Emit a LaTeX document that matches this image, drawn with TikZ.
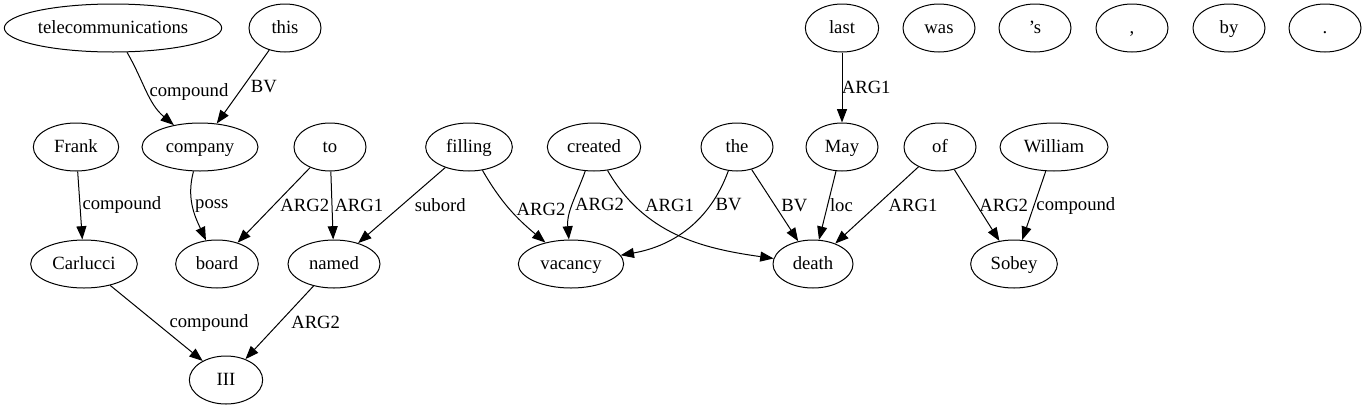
\documentclass[tikz,border=0pt]{standalone}
\usepackage{fontspec}
\setmainfont{Liberation Serif}
\usetikzlibrary{shapes.geometric,arrows.meta}

\begin{document}
\begin{tikzpicture}[x=0.75pt, y=-0.75pt,
    every node/.style={font=\fontsize{14}{16}\selectfont},
    word/.style={ellipse, draw, line width=0.75pt, inner sep=0pt,
      text height=11pt, text depth=3pt,
      minimum height=36pt, minimum width=#1},
    word/.default=54pt,
    lbl/.style={anchor=west, inner sep=1.5pt},
    dep/.style={-{Triangle[length=10pt,width=7.5pt]}, line width=0.75pt}]
  \useasboundingbox (0,0) rectangle (1363,411);

  % top row
  \node[word=163pt] (telecom) at (113,28)  {telecommunications};
  \node[word]       (this)    at (285,28)  {this};
  \node[word=55pt]  (last)    at (842,28)  {last};
  \node[word]       (was)     at (939,28)  {was};
  \node[word]       (apos)    at (1035,28) {’s};
  \node[word]       (comma)   at (1132,28) {,};
  \node[word]       (by)      at (1229,28) {by};
  \node[word]       (period)  at (1325,28) {.};

  % second row
  \node[word=64pt]  (Frank)   at (76,147)   {Frank};
  \node[word=87pt]  (company) at (200,147)  {company};
  \node[word]       (To)      at (330,147)  {to};
  \node[word=65pt]  (filling) at (469,147)  {filling};
  \node[word=70pt]  (created) at (594,147)  {created};
  \node[word]       (the)     at (737,147)  {the};
  \node[word]       (May)     at (842,147)  {May};
  \node[word]       (of)      at (940,147)  {of};
  \node[word=81pt]  (William) at (1054,147) {William};

  % third row
  \node[word=80pt]  (Carlucci) at (84,264)  {Carlucci};
  \node[word=62pt]  (board)    at (217,264) {board};
  \node[word=69pt]  (named)    at (334,264) {named};
  \node[word=79pt]  (vacancy)  at (571,264) {vacancy};
  \node[word=60pt]  (death)    at (813,264) {death};
  \node[word=65pt]  (Sobey)    at (1014,264) {Sobey};

  % bottom
  \node[word=55pt]  (III) at (226,380) {III};

  \draw[dep] (telecom) to[out=-60, in=140] node[lbl] {compound} (company);
  \draw[dep] (this) -- node[lbl, xshift=4pt] {BV} (company);
  \draw[dep] (last) -- node[lbl, xshift=-2pt] {ARG1} (May);
  \draw[dep] (Frank) -- node[lbl] {compound} (Carlucci);
  \draw[dep] (company) to[out=-105, in=115] node[lbl] {poss} (board);
  \draw[dep] (To) -- node[lbl, xshift=3pt] {ARG2} (board);
  \draw[dep] (To) -- node[lbl] {ARG1} (named);
  \draw[dep] (filling) -- node[lbl, xshift=8pt] {subord} (named);
  \draw[dep] (filling) to[out=-60, in=140] node[lbl, xshift=3pt] {ARG2} (vacancy);
  \draw[dep] (created) to[out=-110, in=95] node[lbl] {ARG2} (vacancy);
  \draw[dep] (created) to[out=-60, in=172] node[lbl, pos=0.22, xshift=6pt] {ARG1} (death);
  \draw[dep] (the) to[out=-110, in=10] node[lbl, pos=0.26, xshift=2pt] {BV} (vacancy);
  \draw[dep] (the) -- node[lbl, xshift=3pt] {BV} (death);
  \draw[dep] (May) -- node[lbl] {loc} (death);
  \draw[dep] (of) -- node[lbl, xshift=7pt] {ARG1} (death);
  \draw[dep] (of) -- node[lbl] {ARG2} (Sobey);
  \draw[dep] (William) -- node[lbl] {compound} (Sobey);
  \draw[dep] (Carlucci) -- node[lbl, xshift=8pt] {compound} (III);
  \draw[dep] (named) -- node[lbl, xshift=7pt] {ARG2} (III);
\end{tikzpicture}
\end{document}
